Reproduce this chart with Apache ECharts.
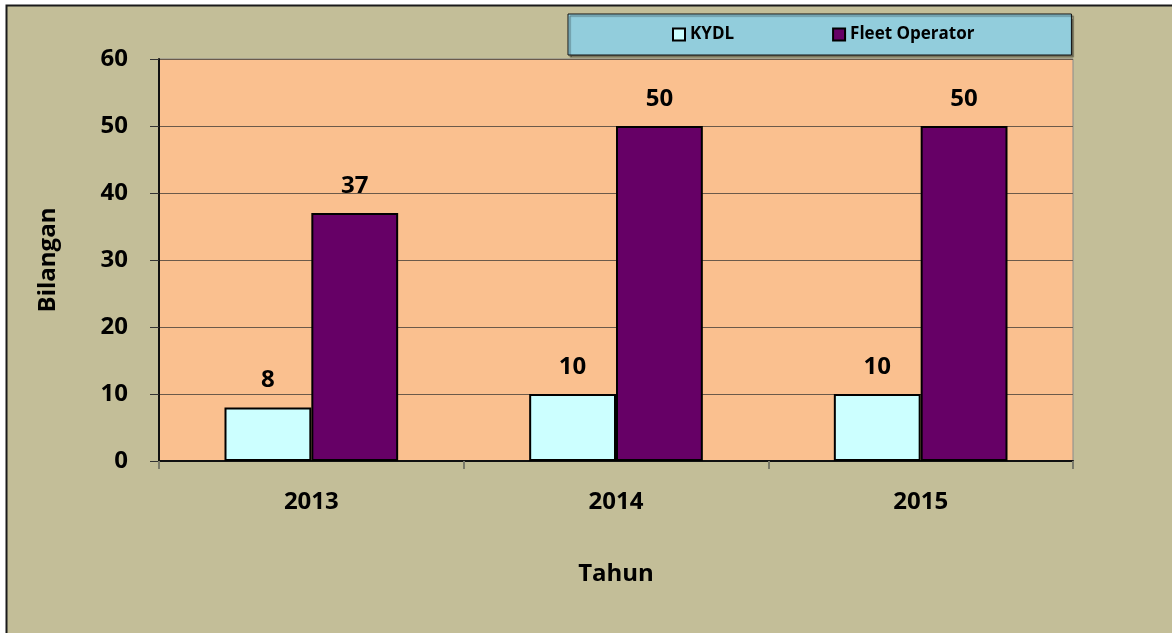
<!DOCTYPE html>
<html>
<head>
<meta charset="utf-8">
<script src="https://cdn.jsdelivr.net/npm/echarts@6/dist/echarts.min.js"></script>
<style>
html,body{margin:0;padding:0;background:#ffffff;}
#chart{width:1172px;height:633px;}
</style>
</head>
<body>
<div id="chart"></div>
<script>
var categories = ['2013', '2014', '2015'];
var kydlValues = [8, 10, 10];
var fleetValues = [37, 50, 50];
var yTicks = [0, 10, 20, 30, 40, 50, 60];

var FONT = '"Open Sans", "Noto Sans", sans-serif';
var chart = echarts.init(document.getElementById('chart'), null, {renderer: 'canvas'});
var option = {
  backgroundColor: '#ffffff',
  animation: false,
  graphic: [{
    type: 'rect', z: -10, silent: true,
    shape: {x: 6.5, y: 5.5, width: 1300, height: 800},
    style: {fill: '#C3BE98', stroke: '#1a1a1a', lineWidth: 2}
  }],
  grid: {
    left: 159, top: 59, right: 99, bottom: 172,
    show: true, backgroundColor: '#FAC08F', borderColor: '#8a8a8a', borderWidth: 1
  },
  legend: {
    left: 568, top: 14,
    padding: [12, 97, 12, 104],
    itemGap: 98,
    itemWidth: 12, itemHeight: 12,
    icon: 'rect',
    backgroundColor: '#92CDDC',
    borderColor: '#111', borderWidth: 1,
    shadowColor: 'rgba(0,0,0,0.45)', shadowOffsetX: 2, shadowOffsetY: 2, shadowBlur: 1,
    textStyle: {fontFamily: FONT, fontWeight: 'bold', fontSize: 17, color: '#000'},
    data: [
      {name: 'KYDL', itemStyle: {color: '#CCFFFF', borderColor: '#000', borderWidth: 2}},
      {name: 'Fleet Operator', itemStyle: {color: '#660066', borderColor: '#000', borderWidth: 2}}
    ]
  },
  xAxis: {
    type: 'category',
    data: categories,
    name: 'Tahun',
    nameLocation: 'middle',
    nameGap: 101,
    nameTextStyle: {fontFamily: FONT, fontWeight: 'bold', fontSize: 24, color: '#000'},
    axisLine: {lineStyle: {color: '#111', width: 2}},
    axisTick: {show: true, length: 8, alignWithLabel: false, lineStyle: {color: '#7a7a6a', width: 2}},
    axisLabel: {margin: 29, fontFamily: FONT, fontWeight: 'bold', fontSize: 24, color: '#000'}
  },
  yAxis: {
    type: 'value',
    min: 0, max: 60, interval: 10,
    name: 'Bilangan',
    nameLocation: 'middle',
    nameGap: 99,
    nameRotate: 90,
    nameTextStyle: {fontFamily: FONT, fontWeight: 'bold', fontSize: 24, color: '#000'},
    axisLine: {show: true, lineStyle: {color: '#111', width: 2}},
    axisTick: {show: true, length: 9, lineStyle: {color: '#333'}},
    axisLabel: {
      margin: 31, fontFamily: FONT, fontWeight: 'bold', fontSize: 24, color: '#000',
      formatter: function (v) { return yTicks.indexOf(v) >= 0 ? String(v) : ''; }
    },
    splitLine: {show: true, lineStyle: {color: '#6b5a4a', width: 1}}
  },
  series: [
    {
      name: 'KYDL', type: 'bar', data: kydlValues,
      barGap: '0%', barCategoryGap: '43%',
      itemStyle: {color: '#CCFFFF', borderColor: '#000', borderWidth: 2},
      label: {show: true, position: 'top', distance: 15, fontFamily: FONT, fontWeight: 'bold', fontSize: 24, color: '#000'}
    },
    {
      name: 'Fleet Operator', type: 'bar', data: fleetValues,
      barGap: '0%', barCategoryGap: '43%',
      itemStyle: {color: '#660066', borderColor: '#000', borderWidth: 2},
      label: {show: true, position: 'top', distance: 15, fontFamily: FONT, fontWeight: 'bold', fontSize: 24, color: '#000'}
    }
  ]
};
chart.setOption(option);
</script>
</body>
</html>
